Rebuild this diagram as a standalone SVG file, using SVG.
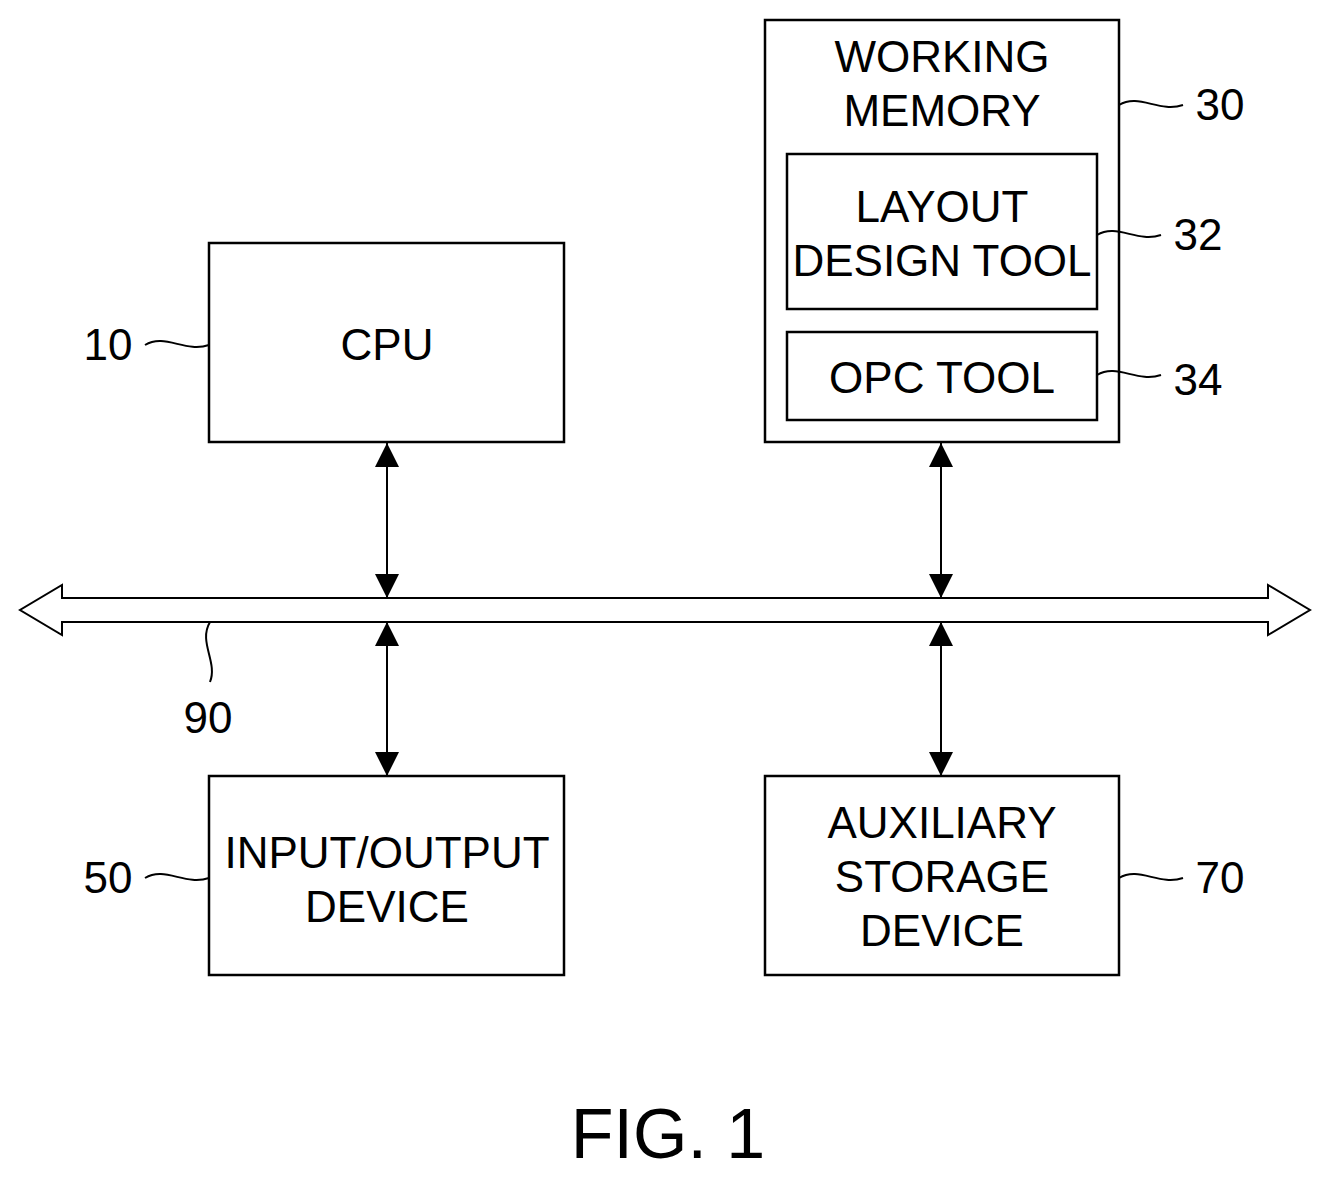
<svg xmlns="http://www.w3.org/2000/svg" width="1330" height="1181" viewBox="0 0 1330 1181">
<style>
.b{fill:#fff;stroke:#000;stroke-width:2.5}
.t{font-family:"Liberation Sans",Arial,sans-serif;font-size:44px;text-anchor:middle;fill:#000}
.l{fill:none;stroke:#000;stroke-width:2}
</style>
<defs>
<marker id="a" viewBox="0 0 10 10" refX="10" refY="5" markerWidth="10" markerHeight="10" markerUnits="userSpaceOnUse" orient="auto-start-reverse"><path d="M0,0L10,5L0,10z" fill="#000"/></marker>
<marker id="ah" viewBox="0 0 24 24" refX="24" refY="12" markerWidth="24" markerHeight="24" markerUnits="userSpaceOnUse" orient="auto-start-reverse"><path d="M0,0L24,12L0,24z" fill="#000"/></marker>
</defs>
<rect width="1330" height="1181" fill="#fff"/>
<g id="cpu"><rect class="b" x="209" y="243" width="355" height="199"/><text class="t" x="387" y="360">CPU</text></g>
<g id="wm"><rect class="b" x="765" y="20" width="354" height="422"/><text class="t" x="942" y="72">WORKING</text><text class="t" x="942" y="126">MEMORY</text>
<rect class="b" x="787" y="154" width="310" height="155"/><text class="t" x="942" y="222">LAYOUT</text><text class="t" x="942" y="276">DESIGN TOOL</text>
<rect class="b" x="787" y="332" width="310" height="88"/><text class="t" x="942" y="393">OPC TOOL</text></g>
<g id="io"><rect class="b" x="209" y="776" width="355" height="199"/><text class="t" x="387" y="868">INPUT/OUTPUT</text><text class="t" x="387" y="922">DEVICE</text></g>
<g id="aux"><rect class="b" x="765" y="776" width="354" height="199"/><text class="t" x="942" y="838">AUXILIARY</text><text class="t" x="942" y="892">STORAGE</text><text class="t" x="942" y="946">DEVICE</text></g>
<g id="connectors">
<path class="l" d="M62,598H1268V585L1310,610L1268,635V622H62V635L20,610L62,585Z" fill="#fff"/>
<line class="l" x1="387" y1="443" x2="387" y2="598" marker-start="url(#ah)" marker-end="url(#ah)"/>
<line class="l" x1="387" y1="622" x2="387" y2="776" marker-start="url(#ah)" marker-end="url(#ah)"/>
<line class="l" x1="941" y1="443" x2="941" y2="598" marker-start="url(#ah)" marker-end="url(#ah)"/>
<line class="l" x1="941" y1="622" x2="941" y2="776" marker-start="url(#ah)" marker-end="url(#ah)"/>
</g>
<g id="labels">
<path class="l" d="M145,345c20,-12 40,8 64,0"/><text class="t" x="108" y="360">10</text>
<path class="l" d="M1119,105c20,-12 40,8 64,0"/><text class="t" x="1220" y="120">30</text>
<path class="l" d="M1097,235c20,-12 40,8 64,0"/><text class="t" x="1198" y="250">32</text>
<path class="l" d="M1097,375c20,-12 40,8 64,0"/><text class="t" x="1198" y="395">34</text>
<path class="l" d="M145,878c20,-12 40,8 64,0"/><text class="t" x="108" y="893">50</text>
<path class="l" d="M1119,878c20,-12 40,8 64,0"/><text class="t" x="1220" y="893">70</text>
<path class="l" d="M210,622c-12,20 8,40 0,60"/><text class="t" x="208" y="733">90</text>
<text class="t" x="668" y="1158" style="font-size:70px">FIG. 1</text>
</g>
</svg>
